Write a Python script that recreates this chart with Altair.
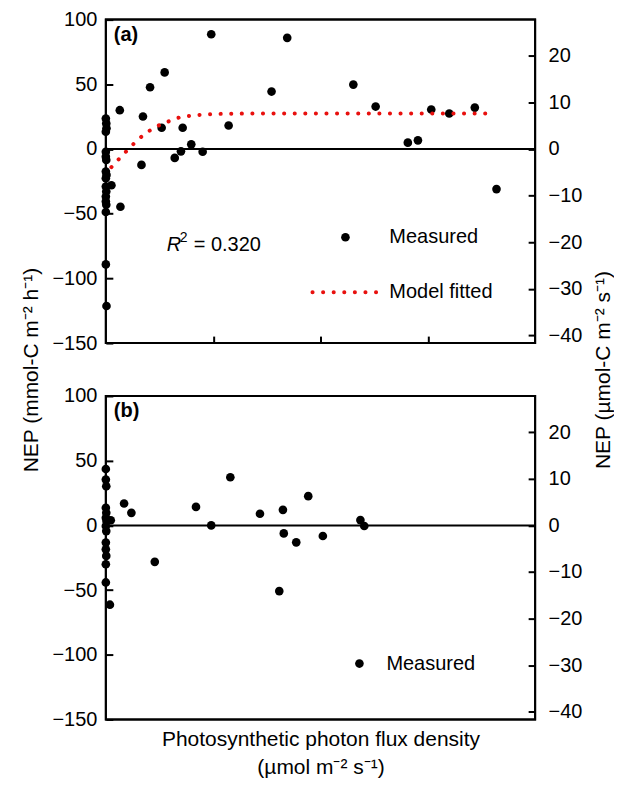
import altair as alt
import pandas as pd

# ---- Panel (a) measured ----
a_ppfd = [0, 2, 3, 0, 0, 0, 2, 0, 3, 0, 0, 2, 0, 0, 2, 0, 0, 3,
          26, 68, 166, 321, 350, 451, 398, 65, 173, 260, 358, 572,
          206, 274, 491, 845, 772, 1153, 1257, 1516, 1600, 1719, 1407, 1454, 1820]
a_nep = [23.6, 19.8, 16.0, 13.3, -2.1, -5.9, -8.5, -17.4, -20.0, -22.6, -29.0, -32.8, -36.7, -40.5, -43.1, -48.7, -89.2, -121.3,
         -28.0, -44.6, -12.3, -6.9, -1.8, -2.1, 3.6, 30.0, 25.1, 16.4, 16.4, 18.2,
         47.7, 59.2, 88.7, 85.9, 44.4, 49.8, 32.8, 30.5, 27.4, 32.0, 4.9, 6.7, -31.0]

# ---- Panel (a) model fitted ----
m_ppfd = [26, 45, 64, 90, 132, 170, 201, 240, 287, 330, 380, 450, 550, 700, 1000, 1400, 1781]
m_nep = [-14.0, -10.5, -7.2, -2.7, 4.4, 10.1, 13.8, 17.7, 21.0, 23.8, 25.4, 26.5, 27.2, 27.4, 27.5, 27.5, 27.5]

# ---- Panel (b) measured ----
b_ppfd = [0, 0, 2, 0, 2, 0, 3, 0, 2, 0, 0, 2, 0, 0, 19, 23,
          85, 119, 228, 420, 491, 580, 718, 808, 825, 829, 887, 943, 1011, 1186, 1204]
b_nep = [43.6, 35.4, 30.2, 13.6, 9.7, 5.9, 3.3, -0.5, -4.4, -13.3, -18.5, -23.6, -30.0, -44.1, -61.3, 4.0,
         16.9, 9.7, -28.2, 14.3, 0.0, 37.2, 9.0, -50.8, 12.0, -6.2, -13.1, 22.6, -8.2, 4.1, -0.5]

left_ticks = [-150, -100, -50, 0, 50, 100]
right_ticks = [-40, -30, -20, -10, 0, 10, 20]
x_ticks = [500, 1000, 1500]
CONV = 3.6  # mmol h-1 -> umol s-1

W, H = 430, 324
GAP = 53
FONT = "Liberation Sans"
RED = "#e8100e"

dfa = pd.DataFrame({"ppfd": a_ppfd, "nep": a_nep})
dfm = pd.DataFrame({"ppfd": m_ppfd, "nep": m_nep})
dfb = pd.DataFrame({"ppfd": b_ppfd, "nep": b_nep})
zero = pd.DataFrame({"z": [0]})
one = alt.Data(values=[{}])

xscale = alt.Scale(domain=[0, 2000], nice=False, zero=False)
yscale = alt.Scale(domain=[-150, 100], nice=False)
rscale = alt.Scale(domain=[-150 / CONV, 100 / CONV], nice=False)

left_title = "NEP (mmol-C m\u207b\u00b2 h\u207b\u00b9)"
right_title = "NEP (\u00b5mol-C m\u207b\u00b2 s\u207b\u00b9)"
TY = (2 * H + GAP) / 2


def left_axis(with_title):
    kw = dict(values=left_ticks, offset=-7, tickSize=7, tickWidth=2, tickColor="black",
              domain=False, grid=False, labelFont=FONT, labelFontSize=20, labelColor="black",
              labelPadding=9)
    if with_title:
        kw.update(title=left_title, titleFont=FONT, titleFontSize=21, titleFontWeight="normal",
                  titleColor="black", titleX=-81, titleY=TY, titleAngle=270,
                  titleAlign="center", titleBaseline="middle")
    else:
        kw.update(title=None)
    return alt.Axis(**kw)


def right_axis(with_title):
    kw = dict(values=right_ticks, orient="right", offset=-7, tickSize=7, tickWidth=2,
              tickColor="black", domain=False, grid=False, labelFont=FONT, labelFontSize=20,
              labelColor="black", labelPadding=13)
    if with_title:
        kw.update(title=right_title, titleFont=FONT, titleFontSize=21, titleFontWeight="normal",
                  titleColor="black", titleX=75, titleY=TY, titleAngle=270,
                  titleAlign="center", titleBaseline="middle")
    else:
        kw.update(title=None)
    return alt.Axis(**kw)


def txt(text, x, y, size=20, weight="normal", style="normal", align="left", baseline="alphabetic"):
    return alt.Chart(one).mark_text(text=text, font=FONT, fontSize=size, fontWeight=weight,
                                    fontStyle=style, align=align, baseline=baseline,
                                    color="black").encode(x=alt.value(x), y=alt.value(y))


def frame():
    return alt.Chart(one).mark_rect(fill=None, filled=False, stroke="black", strokeWidth=2).encode(
        x=alt.value(0), x2=alt.value(W), y=alt.value(0), y2=alt.value(H))


# ---------- Panel (a) ----------
xa_axis = alt.Axis(values=x_ticks, offset=-7, tickSize=7, tickWidth=2, tickColor="black",
                   labels=False, domain=False, grid=False, title=None)

pts_a = alt.Chart(dfa).mark_circle(size=75, color="black", opacity=1).encode(
    x=alt.X("ppfd:Q", scale=xscale, axis=xa_axis),
    y=alt.Y("nep:Q", scale=yscale, axis=left_axis(True)),
)
model = alt.Chart(dfm).mark_line(color=RED, strokeWidth=4, strokeDash=[0.1, 10.5],
                                 strokeCap="round", interpolate="monotone").encode(
    x=alt.X("ppfd:Q", scale=xscale),
    y=alt.Y("nep:Q", scale=yscale),
)
zero_a = alt.Chart(zero).mark_rule(color="black", strokeWidth=2).encode(
    y=alt.Y("z:Q", scale=rscale, axis=right_axis(True)),
)
leg_dot_a = alt.Chart(one).mark_circle(size=75, color="black", opacity=1).encode(
    x=alt.value(240), y=alt.value(218))
leg_line = alt.Chart(one).mark_rule(color=RED, strokeWidth=4, strokeDash=[0.1, 10.5],
                                    strokeCap="round").encode(
    x=alt.value(207), x2=alt.value(272), y=alt.value(273))

left_a = alt.layer(pts_a, model, leg_dot_a, leg_line, frame(),
                   txt("Measured", 284, 218, baseline="middle"),
                   txt("Model fitted", 284, 273, baseline="middle"),
                   txt("R", 61, 232, style="italic"),
                   txt("2", 74, 223, size=14),
                   txt("= 0.320", 88, 232),
                   txt("(a)", 8, 21, weight="bold"))
panel_a = alt.layer(left_a, zero_a).resolve_scale(y="independent").properties(width=W, height=H)

# ---------- Panel (b) ----------
xb_axis = alt.Axis(ticks=False, labels=False, domain=False, grid=False,
                   title=["Photosynthetic photon flux density", "(\u00b5mol m\u207b\u00b2 s\u207b\u00b9)"],
                   titleFont=FONT, titleFontSize=21, titleFontWeight="normal", titleColor="black",
                   titleLineHeight=28, titlePadding=9)
pts_b = alt.Chart(dfb).mark_circle(size=75, color="black", opacity=1).encode(
    x=alt.X("ppfd:Q", scale=xscale, axis=xb_axis),
    y=alt.Y("nep:Q", scale=yscale, axis=left_axis(False)),
)
zero_b = alt.Chart(zero).mark_rule(color="black", strokeWidth=2).encode(
    y=alt.Y("z:Q", scale=rscale, axis=right_axis(False)),
)
leg_dot_b = alt.Chart(one).mark_circle(size=75, color="black", opacity=1).encode(
    x=alt.value(254), y=alt.value(268))
left_b = alt.layer(pts_b, leg_dot_b, frame(),
                   txt("Measured", 281, 268, baseline="middle"),
                   txt("(b)", 8, 21, weight="bold"))
panel_b = alt.layer(left_b, zero_b).resolve_scale(y="independent").properties(width=W, height=H)

chart = alt.vconcat(panel_a, panel_b, spacing=GAP, bounds="flush").configure(
    background="white", padding={"left": 12, "top": 0, "right": 0, "bottom": 0}
).configure_view(stroke="black", strokeWidth=2)

chart.save("out.html", embed_options={"renderer": "svg", "actions": False})
